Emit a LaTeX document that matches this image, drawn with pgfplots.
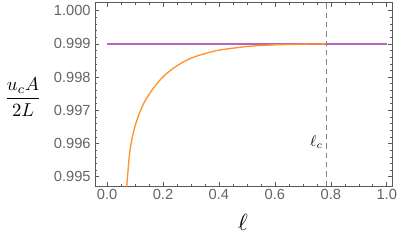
\documentclass[border=0pt]{standalone}
\usepackage{amsmath}
\usepackage{graphicx}
\usepackage[no-math]{fontspec}
\usepackage{pgfplots}
\pgfplotsset{compat=1.18}
\newfontfamily\tickfont{Liberation Sans}
\definecolor{mmaorange}{RGB}{255,148,40}
\definecolor{mmapurple}{RGB}{185,100,190}
\definecolor{tickgray}{RGB}{100,100,100}
\definecolor{framegray}{RGB}{90,90,90}
\begin{document}
\begin{tikzpicture}
\begin{axis}[
  scale only axis,
  width=222.75pt, height=137.5pt,
  xmin=-0.042, xmax=1.020,
  ymin=0.99472, ymax=1.00024,
  axis line style={framegray, line width=0.6pt},
  tick pos=both,
  xticklabel pos=left, yticklabel pos=left,
  tick align=inside,
  major tick length=3pt, minor tick length=1.5pt,
  every tick/.style={framegray, line width=0.4pt},
  xtick={0,0.2,0.4,0.6,0.8,1.0},
  ytick={0.995,0.996,0.997,0.998,0.999,1.000},
  minor x tick num=3,
  minor y tick num=4,
  /pgf/number format/assume math mode=true,
  xticklabel style={/pgf/number format/fixed, /pgf/number format/precision=1, /pgf/number format/zerofill, yshift=1pt},
  yticklabel style={/pgf/number format/fixed, /pgf/number format/precision=3, /pgf/number format/zerofill},
  ticklabel style={font=\tickfont\fontsize{11}{13}\selectfont, text=tickgray},
  xlabel={\scalebox{1.75}{$\ell$}},
  ylabel={\scalebox{1.4}{$\dfrac{u_c A}{2L}$}},
  every axis x label/.style={at={(axis description cs:0.497,-0.199)}, anchor=center},
  every axis y label/.style={at={(axis description cs:-0.2434,0.4855)}, anchor=center},
  clip mode=individual,
]
\addplot[mmapurple, line width=1.5pt] coordinates {(0,0.999) (1,0.999)};
\addplot[mmaorange, line width=1pt, smooth] coordinates {
(0.066,0.99430)
(0.0705,0.99472)
(0.0787,0.99556)
(0.086,0.99600)
(0.094,0.99633)
(0.105,0.99666)
(0.118,0.99696)
(0.135,0.99727)
(0.160,0.99760)
(0.185,0.99787)
(0.213,0.99811)
(0.250,0.99834)
(0.285,0.99851)
(0.320,0.99863)
(0.360,0.99873)
(0.400,0.99881)
(0.450,0.99887)
(0.500,0.99892)
(0.550,0.99895)
(0.600,0.99897)
(0.650,0.99898)
(0.700,0.99899)
(0.785,0.99900)
};
\addplot[gray, line width=0.7pt, dash pattern=on 4pt off 3pt] coordinates {(0.785,0.99472) (0.785,1.00024)};
\node[anchor=east, inner sep=1pt] at (axis cs:0.777,0.99604) {\scalebox{1.15}{$\ell_c$}};
\end{axis}
\pgfresetboundingbox
\path (current axis.south west) ++(-71.5pt,-42.75pt) coordinate (bbl);
\path (current axis.north east) ++(5pt,2pt) coordinate (btr);
\useasboundingbox (bbl) rectangle (btr);
\end{tikzpicture}
\end{document}
